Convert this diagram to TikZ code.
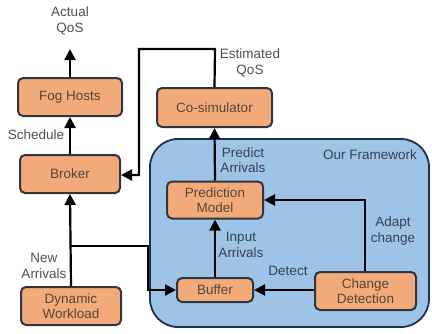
\documentclass[tikz,border=0pt]{standalone}
\usepackage{fontspec}
\setmainfont{Liberation Sans}
\usetikzlibrary{positioning}
\usetikzlibrary{arrows.meta}

\definecolor{boxfill}{HTML}{F3AA7B}
\definecolor{boxline}{HTML}{303540}
\definecolor{boxtext}{HTML}{564639}
\definecolor{fwfill}{HTML}{9DC3E6}
\definecolor{fwline}{HTML}{1F3050}
\definecolor{labeltext}{HTML}{505050}
\definecolor{fwtext}{HTML}{364256}

\tikzset{
    block/.style={draw=boxline, line width=2pt, fill=boxfill, rounded corners=5pt,
        align=center, text=boxtext, font=\fontsize{13.5}{15}\selectfont, inner sep=0pt},
    flow/.style={line width=2.2pt, -{Triangle[length=11pt, width=11pt]}},
    lbl/.style={align=center, text=labeltext, font=\fontsize{13.5}{15.5}\selectfont},
    fwlbl/.style={lbl, text=fwtext}
}

\begin{document}
\begin{tikzpicture}[x=1pt, y=-1pt]
            \useasboundingbox (0,0) rectangle (432,333);

            % Framework area
            \draw[draw=fwline, line width=1.8pt, fill=fwfill, rounded corners=28pt]
                (150,139) rectangle (429,327);
            \node[fwlbl] (fw) at (370,155) {Our Framework};

            % Blocks
            \node[block, minimum width=104pt, minimum height=38pt] (hosts) at (70,97) {Fog Hosts};
            \node[block, minimum width=100pt, minimum height=38pt] (broker) at (70,174) {Broker};
            \node[block, minimum width=100pt, minimum height=38pt] (workload) at (71,306) {Dynamic\\Workload};
            \node[block, minimum width=115pt, minimum height=39pt] (cosim) at (214.5,107.5) {Co-simulator};
            \node[block, minimum width=96pt, minimum height=37pt] (predict) at (215,200) {Prediction\\Model};
            \node[block, minimum width=76pt, minimum height=24pt] (buffer) at (215,290) {Buffer};
            \node[block, minimum width=101pt, minimum height=38pt] (change) at (365.5,291) {Change\\Detection};

            % Bends and ends
            \coordinate (qos) at (70,49);
            \coordinate (split) at (70,246);
            \coordinate (splitdown) at (148,246);
            \coordinate (cosimtop) at (215,49);
            \coordinate (cosimleft) at (139,49);
            \coordinate (cosimdown) at (139,175);
            \coordinate (adapttop) at (365,200);

            % Connectors
            \draw[flow] (hosts.north) -- (qos);
            \draw[flow] (broker.north) -- (hosts.south);
            \draw[flow] (workload.north) -- (broker.south);
            \draw[flow] (split) -- (splitdown) |- (buffer.west);
            \draw[flow] (buffer.north) -- (predict.south);
            \draw[flow] (predict.north) -- (cosim.south);
            \draw[flow] (cosim.north) -- (cosimtop) -- (cosimleft) -- (cosimdown) -- (broker.east |- cosimdown);
            \draw[flow] (change.west |- buffer.east) -- (buffer.east);
            \draw[flow] (change.north -| adapttop) -- (adapttop) -- (predict.east |- adapttop);

            % Labels
            \node[lbl] (actual) at (70,21) {Actual\\QoS};
            \node[lbl] (schedule) at (36,135) {Schedule};
            \node[lbl] (arrivals) at (44,266) {New\\Arrivals};
            \node[lbl] (estimated) at (250,63) {Estimated\\QoS};
            \node[fwlbl] (predicted) at (243,160) {Predict\\Arrivals};
            \node[fwlbl] (input) at (241,245) {Input\\Arrivals};
            \node[fwlbl] (detect) at (288,271) {Detect};
            \node[fwlbl] (adapt) at (393,231) {Adapt\\change};
        \end{tikzpicture}
\end{document}
